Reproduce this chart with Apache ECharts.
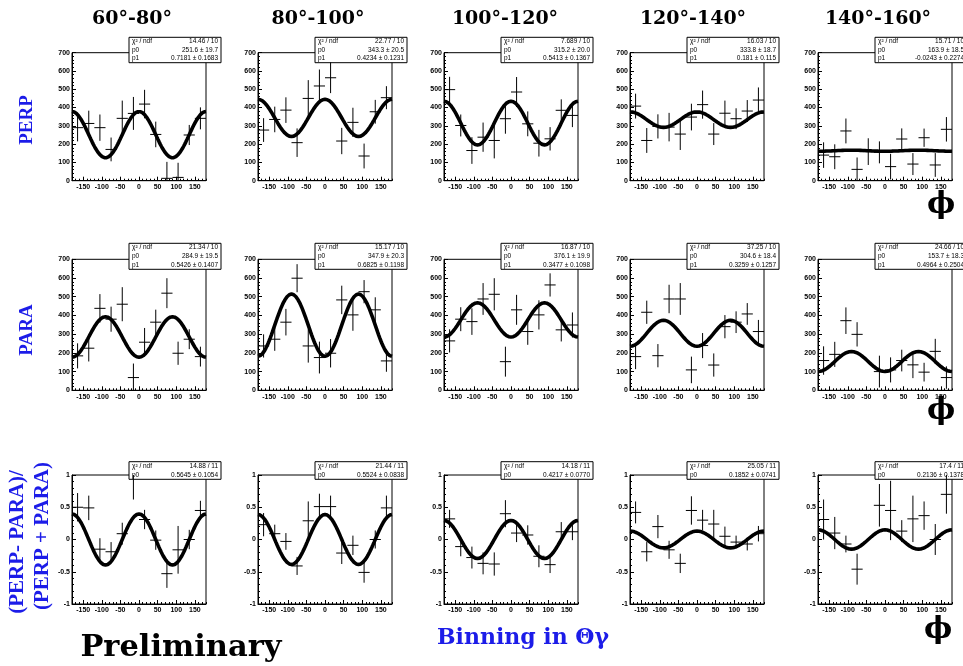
<!DOCTYPE html>
<html>
<head>
<meta charset="utf-8">
<script src="https://cdn.jsdelivr.net/npm/echarts@6/dist/echarts.min.js"></script>
<style>
html,body{margin:0;padding:0;background:#fff;}
#chart{width:963px;height:666px;}
</style>
</head>
<body>
<div id="chart"></div>
<script>
// phi bin centres (deg), 30 degree bins
const phiBins = [-165, -135, -105, -75, -45, -15, 15, 45, 75, 105, 135, 165];
const phiTicks = [-150, -100, -50, 0, 50, 100, 150];
const thetaBins = ['60°-80°', '80°-100°', '100°-120°', '120°-140°', '140°-160°'];

// PERP yields, one list per theta bin
const perpCounts = [
  [290, 313, 290, 171, 341, 368, 419, 253, 13, 18, 250, 341],
  [277, 335, 386, 208, 450, 518, 563, 217, 319, 135, 377, 454],
  [498, 302, 165, 238, 220, 339, 485, 311, 205, 229, 385, 357],
  [408, 220, 297, 293, 255, 348, 416, 255, 369, 339, 381, 441],
  [140, 131, 272, 62, 159, 155, 77, 228, 91, 235, 86, 281]
];
const perpErrors = [
  [75, 70, 72, 65, 97, 90, 78, 70, 90, 80, 55, 60],
  [65, 70, 70, 78, 100, 90, 84, 72, 80, 68, 65, 63],
  [70, 60, 73, 80, 98, 82, 82, 68, 73, 64, 60, 64],
  [68, 68, 66, 78, 87, 73, 77, 60, 69, 57, 60, 69],
  [70, 68, 68, 65, 73, 60, 70, 58, 60, 50, 65, 67]
];

// PARA yields
const paraCounts = [
  [184, 225, 438, 380, 460, 68, 257, 364, 519, 198, 273, 180],
  [237, 273, 364, 599, 237, 175, 198, 483, 403, 527, 430, 157],
  [264, 380, 367, 488, 513, 153, 430, 314, 403, 563, 323, 349],
  [180, 417, 185, 488, 488, 109, 239, 135, 340, 364, 408, 314],
  [159, 192, 372, 299, null, 100, 109, 159, 136, 97, 208, 68]
];
const paraErrors = [
  [67, 71, 76, 67, 91, 75, 76, 67, 80, 62, 53, 53],
  [62, 62, 71, 75, 89, 85, 76, 76, 85, 62, 67, 58],
  [62, 64, 71, 85, 86, 80, 80, 71, 78, 62, 62, 67],
  [67, 62, 62, 76, 85, 71, 67, 62, 62, 58, 58, 62],
  [76, 67, 71, 65, null, 85, 67, 58, 71, 50, 67, 60]
];

// asymmetry (PERP-PARA)/(PERP+PARA)
const asymValues = [
  [0.50, 0.49, -0.15, -0.19, 0.09, 1.05, 0.31, -0.01, -0.53, -0.16, 0.00, 0.45],
  [0.23, 0.09, -0.03, -0.41, 0.29, 0.51, 0.51, -0.21, -0.09, -0.51, 0.00, 0.49],
  [0.32, -0.11, -0.28, -0.37, -0.38, 0.40, 0.10, 0.07, -0.26, -0.39, 0.12, 0.12],
  [0.42, -0.19, 0.20, -0.16, -0.37, 0.45, 0.30, 0.24, 0.05, -0.04, -0.07, 0.09],
  [0.31, 0.10, -0.07, -0.46, null, 0.53, 0.45, 0.13, 0.32, 0.37, 0.00, 0.70]
];
const asymErrors = [
  [0.22, 0.19, 0.17, 0.15, 0.17, 0.43, 0.15, 0.15, 0.22, 0.37, 0.15, 0.15],
  [0.18, 0.14, 0.13, 0.14, 0.30, 0.20, 0.17, 0.17, 0.15, 0.16, 0.14, 0.19],
  [0.14, 0.15, 0.17, 0.17, 0.18, 0.21, 0.14, 0.15, 0.17, 0.13, 0.15, 0.13],
  [0.17, 0.15, 0.18, 0.14, 0.15, 0.22, 0.16, 0.22, 0.15, 0.10, 0.10, 0.12],
  [0.31, 0.25, 0.13, 0.24, null, 0.33, 0.46, 0.17, 0.36, 0.22, 0.24, 0.30]
];

// fit results printed in the stat boxes
const perpChi2 = ['14.46 / 10', '22.77 / 10', '7.689 / 10', '16.03 / 10', '15.71 / 10'];
const perpP0 = ['251.6 ± 19.7', '343.3 ± 20.5', '315.2 ± 20.0', '333.8 ± 18.7', '163.9 ± 18.5'];
const perpP1 = ['0.7181 ± 0.1683', '0.4234 ± 0.1231', '0.5413 ± 0.1367', '0.181 ± 0.115', '-0.0243 ± 0.2274'];
const paraChi2 = ['21.34 / 10', '15.17 / 10', '16.87 / 10', '37.25 / 10', '24.66 / 10'];
const paraP0 = ['284.9 ± 19.5', '347.9 ± 20.3', '376.1 ± 19.9', '304.6 ± 18.4', '153.7 ± 18.3'];
const paraP1 = ['0.5426 ± 0.1407', '0.6825 ± 0.1198', '0.3477 ± 0.1098', '0.3259 ± 0.1257', '0.4964 ± 0.2504'];
const asymChi2 = ['14.88 / 11', '21.44 / 11', '14.18 / 11', '25.05 / 11', '17.4 / 11'];
const asymP0 = ['0.5645 ± 0.1054', '0.5524 ± 0.0838', '0.4217 ± 0.0770', '0.1852 ± 0.0741', '0.2136 ± 0.1378'];

// photon beam polarisation used in the fit functions
const BEAM_POL = 0.7;
const HALF_BIN = 15;

// ---- layout ----
const PANEL_LEFT = [72, 258, 444, 630, 818];
const PANEL_W = 134;
const ROW_TOP = [52.7, 259.3, 475];
const ROW_H = [128, 131, 129];
const BOX_TOP = [37.3, 243.3, 461.7];
const BOX_H = [25.4, 26, 17.6];
const BOX_W = 92;
const BLUE = '#1c1ce8';
const SERIF = '"DejaVu Serif", serif';
const TIMES = '"Liberation Serif", serif';
const SANS = '"Liberation Sans", Arial, sans-serif';

const lead = s => parseFloat(s);

const rows = [
  { counts: perpCounts, errs: perpErrors, stats: [perpChi2, perpP0, perpP1], yMin: 0, yMax: 700, yStep: 100,
    fit: (c, phi) => lead(perpP0[c]) * (1 + BEAM_POL * lead(perpP1[c]) * Math.cos(2 * phi * Math.PI / 180)) },
  { counts: paraCounts, errs: paraErrors, stats: [paraChi2, paraP0, paraP1], yMin: 0, yMax: 700, yStep: 100,
    fit: (c, phi) => lead(paraP0[c]) * (1 - BEAM_POL * lead(paraP1[c]) * Math.cos(2 * phi * Math.PI / 180)) },
  { counts: asymValues, errs: asymErrors, stats: [asymChi2, asymP0], yMin: -1, yMax: 1, yStep: 0.5,
    fit: (c, phi) => BEAM_POL * lead(asymP0[c]) * Math.cos(2 * phi * Math.PI / 180) }
];
const statNames = ['χ² / ndf', 'p0', 'p1'];

const grids = [], xAxes = [], yAxes = [], series = [], graphics = [];

function errorBarItem(params, api) {
  const x = api.value(0), y = api.value(1), e = api.value(2);
  const l = api.coord([x - HALF_BIN, y]);
  const r = api.coord([x + HALF_BIN, y]);
  const t = api.coord([x, y + e]);
  const b = api.coord([x, y - e]);
  const st = { stroke: '#000', lineWidth: 1 };
  return {
    type: 'group',
    children: [
      { type: 'line', shape: { x1: l[0], y1: l[1], x2: r[0], y2: r[1] }, style: st },
      { type: 'line', shape: { x1: t[0], y1: t[1], x2: b[0], y2: b[1] }, style: st }
    ]
  };
}

rows.forEach((row, r) => {
  for (let c = 0; c < 5; c++) {
    const g = grids.length;
    grids.push({
      left: PANEL_LEFT[c], top: ROW_TOP[r], width: PANEL_W, height: ROW_H[r],
      show: true, borderColor: '#000', borderWidth: 1, backgroundColor: 'transparent'
    });
    // major ticks + labels
    xAxes.push({
      type: 'value', gridIndex: g, min: -180, max: 180, position: 'bottom',
      axisLine: { show: true, onZero: false, lineStyle: { color: '#000', width: 1 } },
      axisTick: { show: true, inside: true, length: 4, customValues: phiTicks, lineStyle: { color: '#000' } },
      axisLabel: { show: true, customValues: phiTicks, margin: 3, color: '#000', fontSize: 7,
                   fontWeight: 'bold', fontFamily: SANS },
      splitLine: { show: false }
    });
    // minor ticks every 10 deg
    xAxes.push({
      type: 'value', gridIndex: g, min: -180, max: 180, interval: 10, position: 'bottom',
      axisLine: { show: false, onZero: false },
      axisTick: { show: true, inside: true, length: 2, lineStyle: { color: '#000' } },
      axisLabel: { show: false }, splitLine: { show: false }
    });
    yAxes.push({
      type: 'value', gridIndex: g, min: row.yMin, max: row.yMax, interval: row.yStep, position: 'left',
      axisLine: { show: true, onZero: false, lineStyle: { color: '#000', width: 1 } },
      axisTick: { show: true, inside: true, length: 4, lineStyle: { color: '#000' } },
      minorTick: { show: true, splitNumber: 5, length: 2, lineStyle: { color: '#000' } },
      axisLabel: { margin: 2, color: '#000', fontSize: 7, fontWeight: 'bold', fontFamily: SANS },
      splitLine: { show: false }
    });

    const pts = [];
    phiBins.forEach((phi, i) => {
      const v = row.counts[c][i];
      if (v !== null && v !== undefined) pts.push([phi, v, row.errs[c][i]]);
    });
    series.push({
      type: 'custom', xAxisIndex: 2 * g, yAxisIndex: g, clip: true,
      renderItem: errorBarItem, encode: { x: 0, y: 1 }, data: pts, z: 3, silent: true
    });

    const curve = [];
    for (let phi = -180; phi <= 180; phi += 3) curve.push([phi, row.fit(c, phi)]);
    series.push({
      type: 'line', xAxisIndex: 2 * g, yAxisIndex: g, data: curve, showSymbol: false,
      smooth: false, clip: true, z: 4, silent: true,
      lineStyle: { color: '#000', width: 3.6 }
    });

    // stat box
    const bx = PANEL_LEFT[c] + PANEL_W + 15 - BOX_W;
    const by = BOX_TOP[r];
    const n = row.stats.length;
    const rh = BOX_H[r] / n;
    const kids = [{
      type: 'rect', shape: { x: bx, y: by, width: BOX_W, height: BOX_H[r] },
      style: { fill: '#fff', stroke: '#000', lineWidth: 1 }
    }];
    for (let k = 0; k < n; k++) {
      const ty = by + rh * (k + 0.5);
      kids.push({ type: 'text', x: bx + 3, y: ty,
        style: { text: statNames[k], fill: '#000', font: '6.5px ' + SANS,
                 textAlign: 'left', align: 'left', textVerticalAlign: 'middle', verticalAlign: 'middle' } });
      kids.push({ type: 'text', x: bx + BOX_W - 3, y: ty,
        style: { text: row.stats[k][c], fill: '#000', font: '6.5px ' + SANS,
                 textAlign: 'right', align: 'right', textVerticalAlign: 'middle', verticalAlign: 'middle' } });
    }
    graphics.push({ type: 'group', z: 100, children: kids });
  }
});

function label(text, x, y, font, fill, rot) {
  return {
    type: 'text', x: x, y: y, rotation: rot || 0, z: 100,
    style: { text: text, font: font, fill: fill, textAlign: 'center', align: 'center',
             textVerticalAlign: 'middle', verticalAlign: 'middle' }
  };
}

// column titles
const titleX = [132, 318, 505, 693, 878];
thetaBins.forEach((t, c) => graphics.push(label(t, titleX[c], 19, 'bold 19px ' + SERIF, '#000')));

// row titles
graphics.push(label('PERP', 27, 120, 'bold 19px ' + TIMES, BLUE, Math.PI / 2));
graphics.push(label('PARA', 27, 330, 'bold 19px ' + TIMES, BLUE, Math.PI / 2));
graphics.push(label('(PERP- PARA)/', 18, 542, 'bold 21px ' + TIMES, BLUE, Math.PI / 2));
graphics.push(label('(PERP + PARA)', 43, 536, 'bold 21px ' + TIMES, BLUE, Math.PI / 2));

// phi axis titles
graphics.push(label('ϕ', 941, 205, 'bold 30px ' + SERIF, '#000'));
graphics.push(label('ϕ', 941, 411, 'bold 30px ' + SERIF, '#000'));
graphics.push(label('ϕ', 938, 630, 'bold 30px ' + SERIF, '#000'));

graphics.push(label('Preliminary', 181, 648, 'bold 30.5px ' + SERIF, '#000'));
graphics.push(label('Binning in Θγ', 523, 638, 'bold 22px ' + SERIF, BLUE));

const chart = echarts.init(document.getElementById('chart'), null, { renderer: 'canvas' });
chart.setOption({
  animation: false,
  backgroundColor: '#fff',
  grid: grids,
  xAxis: xAxes,
  yAxis: yAxes,
  series: series,
  graphic: { elements: graphics }
});
</script>
</body>
</html>
